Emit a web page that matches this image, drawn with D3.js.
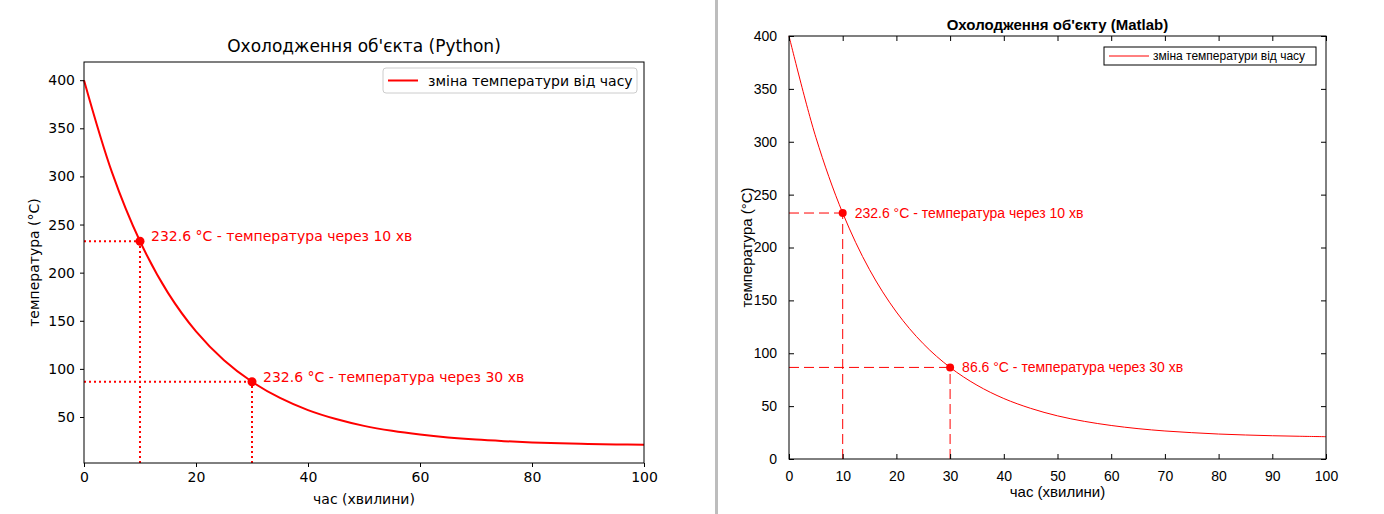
<!DOCTYPE html>
<html><head><meta charset="utf-8">
<script src="https://cdn.jsdelivr.net/npm/d3@7"></script>
<style>body{margin:0;background:#fff}svg{display:block}</style>
</head><body>
<svg id="c" width="1384" height="514"></svg>
<script>
// data (minutes, °C)
const times = [0,5,10,15,20,25,30,35,40,45,50,55,60,65,70,75,80,85,90,95,100];
const temps = [400,304.2,232.6,179.0,139.0,109.0,86.6,69.8,57.2,47.9,40.8,35.6,31.7,28.7,26.5,24.9,23.6,22.7,22.0,21.5,21.1];
const markT = [10,30];
const markV = [232.6,86.6];
const labelsPy = ["232.6 °C - температура через 10 хв","232.6 °C - температура через 30 хв"];
const labelsMl = ["232.6 °C - температура через 10 хв","86.6 °C - температура через 30 хв"];
const pyXTicks = [0,20,40,60,80,100];
const pyYTicks = [50,100,150,200,250,300,350,400];
const mlXTicks = [0,10,20,30,40,50,60,70,80,90,100];
const mlYTicks = [0,50,100,150,200,250,300,350,400];
const pts = times.map((t,i)=>[t,temps[i]]);
const svg = d3.select("#c");
const red = "#ff0000";

// divider
svg.append("rect").attr("x",715).attr("y",0).attr("width",3).attr("height",514).attr("fill","#bdbdbd");

function panel(o){
  const x = d3.scaleLinear().domain([0,100]).range([o.l,o.r]);
  const y = d3.scaleLinear().domain(o.yd).range([o.b,o.t]);
  const g = svg.append("g").style("font-family",o.font);
  const line = d3.line().x(d=>x(d[0])).y(d=>y(d[1])).curve(d3.curveCatmullRom);
  g.append("path").attr("d",line(pts)).attr("fill","none").attr("stroke",red).attr("stroke-width",o.lw);
  markT.forEach((t,i)=>{
    const v = markV[i];
    g.append("line").attr("x1",x(t)).attr("x2",x(t)).attr("y1",o.b).attr("y2",y(v))
      .attr("stroke",red).attr("stroke-width",o.dw).attr("stroke-dasharray",o.dash);
    g.append("line").attr("x1",o.l).attr("x2",x(t)).attr("y1",y(v)).attr("y2",y(v))
      .attr("stroke",red).attr("stroke-width",o.dw).attr("stroke-dasharray",o.dash);
    g.append("circle").attr("cx",x(t)).attr("cy",y(v)).attr("r",o.mr).attr("fill",red);
    g.append("text").attr("x",x(t)+o.lx).attr("y",y(v)+o.ly).attr("fill",red)
      .style("font-size",o.afs+"px").text(o.labels[i]);
  });
  g.append("rect").attr("x",o.l).attr("y",o.t).attr("width",o.r-o.l).attr("height",o.b-o.t)
    .attr("fill","none").attr("stroke","#000").attr("stroke-width",1);
  const ts = o.inner ? -5 : 4;
  const xa = g.append("g").attr("transform",`translate(0,${o.b})`)
    .call(d3.axisBottom(x).tickValues(o.xt).tickSizeInner(ts).tickSizeOuter(0).tickPadding(o.inner?12:5));
  const ya = g.append("g").attr("transform",`translate(${o.l},0)`)
    .call(d3.axisLeft(y).tickValues(o.yt).tickSizeInner(ts).tickSizeOuter(0).tickPadding(o.inner?12:5));
  [xa,ya].forEach(a=>{a.select(".domain").remove();a.selectAll("text").style("font-size",o.tfs+"px").style("font-family",o.font).attr("fill","#000");});
  if(o.inner){
    g.append("g").attr("transform",`translate(0,${o.t})`).call(d3.axisTop(x).tickValues(o.xt).tickSize(-5).tickFormat("")).select(".domain").remove();
    g.append("g").attr("transform",`translate(${o.r},0)`).call(d3.axisRight(y).tickValues(o.yt).tickSize(-5).tickFormat("")).select(".domain").remove();
  }
  g.append("text").attr("x",(o.l+o.r)/2).attr("y",o.ty).attr("text-anchor","middle")
    .style("font-size",o.tifs+"px").style("font-weight",o.bold?"bold":"normal").text(o.title);
  g.append("text").attr("x",(o.l+o.r)/2).attr("y",o.xly).attr("text-anchor","middle")
    .style("font-size",o.lfs+"px").text("час (хвилини)");
  g.append("text").attr("transform",`translate(${o.ylx},${(o.t+o.b)/2}) rotate(-90)`).attr("text-anchor","middle")
    .style("font-size",o.lfs+"px").text("температура (°C)");
  const L=o.leg;
  g.append("rect").attr("x",L.x).attr("y",L.y).attr("width",L.w).attr("height",L.h)
    .attr("fill","#fff").attr("stroke",L.stroke).attr("rx",L.rx);
  g.append("line").attr("x1",L.x+5).attr("x2",L.x+5+L.ll).attr("y1",L.y+L.h/2).attr("y2",L.y+L.h/2)
    .attr("stroke",red).attr("stroke-width",o.lw);
  g.append("text").attr("x",L.x+L.ll+L.tg).attr("y",L.y+L.h/2+L.fs*0.36).style("font-size",L.fs+"px").text("зміна температури від часу");
}

panel({l:84,r:644,t:62,b:463,yd:[2.2,418.9],font:"DejaVu Sans",lw:2,dw:2,dash:"2,3",mr:4.5,
  lx:11,ly:0,afs:14,labels:labelsPy,xt:pyXTicks,yt:pyYTicks,inner:false,tfs:14,
  ty:52,tifs:17,bold:false,title:"Охолодження об'єкта (Python)",xly:504,ylx:39,lfs:14,
  leg:{x:383,y:68,w:254,h:25,stroke:"#cccccc",rx:3,ll:30,tg:15,fs:14}});

panel({l:789,r:1326,t:36,b:459,yd:[0,400],font:"Liberation Sans, Arial, sans-serif",lw:1,dw:1,dash:"10,5",mr:4,
  lx:12,ly:5,afs:14,labels:labelsMl,xt:mlXTicks,yt:mlYTicks,inner:true,tfs:14,
  ty:30,tifs:15,bold:true,title:"Охолодження об'єкту (Matlab)",xly:497,ylx:752,lfs:15,
  leg:{x:1104,y:47,w:212,h:18,stroke:"#000",rx:0,ll:40,tg:9,fs:12}});
</script>
</body></html>
